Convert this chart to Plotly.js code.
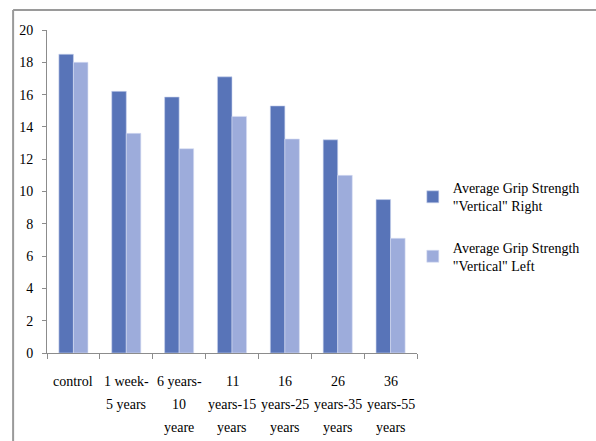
<!DOCTYPE html>
<html>
<head>
<meta charset="utf-8">
<script src="https://cdn.plot.ly/plotly-3.0.1.min.js"></script>
<style>
  html, body { margin: 0; padding: 0; background: #fff; }
  #chart { width: 596px; height: 441px; }
</style>
</head>
<body>
<div id="chart"></div>
<script>
// Age groups, each label split into its display lines
const categoryLines = [
  ["control"],
  ["1 week-", "5 years"],
  ["6 years-", "10", "yeare"],
  ["11", "years-15", "years"],
  ["16", "years-25", "years"],
  ["26", "years-35", "years"],
  ["36", "years-55", "years"]
];
const categories = categoryLines.map(l => l.join(" "));

// Average grip strength, vertical
const rightValues = [18.5, 16.2, 15.85, 17.1, 15.3, 13.2, 9.5];
const leftValues  = [18.0, 13.6, 12.65, 14.65, 13.25, 11.0, 7.1];

const seriesNames = [
  'Average Grip Strength<br>"Vertical" Right',
  'Average Grip Strength<br>"Vertical" Left'
];

const yTicks = [0, 2, 4, 6, 8, 10, 12, 14, 16, 18, 20];

const serif = "Liberation Serif, Times New Roman, serif";
const axisGray = "#8c8c8c";

const traces = [
  {
    type: "bar", x: categories, y: rightValues, name: seriesNames[0],
    legendgroup: "r",
    marker: { color: "#5874b8", line: { color: "#c9d3ee", width: 0.6 } },
    hoverinfo: "x+y"
  },
  {
    type: "bar", x: categories, y: leftValues, name: seriesNames[1],
    legendgroup: "l",
    marker: { color: "#9dacdb", line: { color: "#d6def3", width: 0.6 } },
    hoverinfo: "x+y"
  }
];

// Multi-line category labels beneath the axis, one annotation per line
const annotations = [];
categoryLines.forEach((lines, i) => {
  lines.forEach((txt, j) => {
    annotations.push({
      x: categories[i], xref: "x",
      y: 0, yref: "paper",
      yanchor: "middle", xanchor: "center",
      yshift: -(28 + 23 * j),
      text: txt, showarrow: false,
      font: { family: serif, size: 14, color: "#000" }
    });
  });
});

const layout = {
  width: 596, height: 441,
  margin: { l: 47, r: 178, t: 30, b: 88 },
  paper_bgcolor: "#fff", plot_bgcolor: "#fff",
  barmode: "group", bargap: 0.45, bargroupgap: 0,
  showlegend: true,
  legend: {
    x: 0.986, xanchor: "left", y: 0.56, yanchor: "top",
    font: { family: serif, size: 14, color: "#000" },
    tracegroupgap: 20, bgcolor: "rgba(0,0,0,0)"
  },
  xaxis: {
    type: "category",
    showline: true, linecolor: axisGray, linewidth: 1,
    ticks: "outside", tickson: "boundaries", ticklen: 5, tickcolor: axisGray,
    showticklabels: false, showgrid: false, zeroline: false,
    fixedrange: true
  },
  yaxis: {
    range: [0, 20], tickvals: yTicks,
    showline: true, linecolor: axisGray, linewidth: 1,
    ticks: "outside", ticklen: 4, tickcolor: axisGray,
    ticklabelstandoff: 6,
    showgrid: false, zeroline: false,
    tickfont: { family: serif, size: 14, color: "#000" },
    fixedrange: true
  },
  annotations: annotations,
  shapes: [
    // outer chart frame (left and top edges)
    { type: "line", xref: "paper", yref: "paper",
      x0: -0.0916, x1: 1.6, y0: 1.0619, y1: 1.0619,
      line: { color: "#9a9a9a", width: 2 } },
    { type: "line", xref: "paper", yref: "paper",
      x0: -0.0916, x1: -0.0916, y0: 1.0619, y1: -0.4,
      line: { color: "#9a9a9a", width: 2 } }
  ]
};

Plotly.newPlot("chart", traces, layout, { displayModeBar: false, staticPlot: true });
</script>
</body>
</html>
